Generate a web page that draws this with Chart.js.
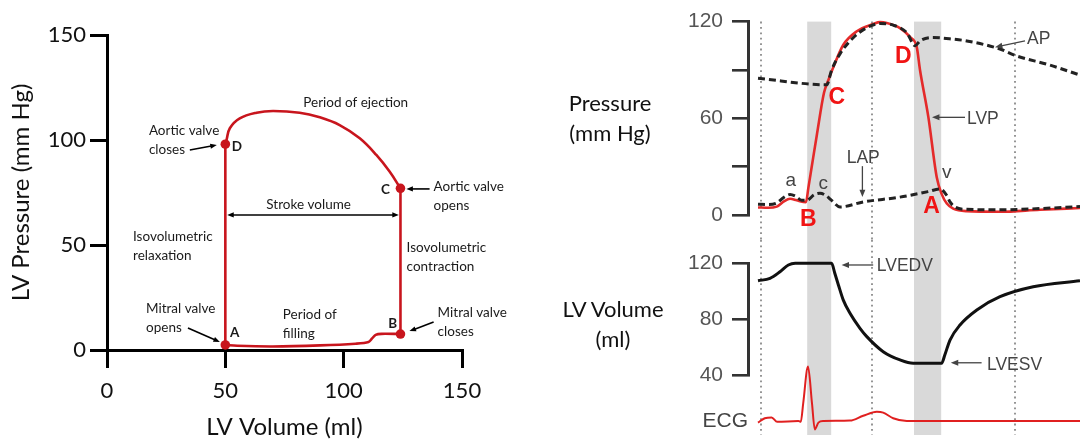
<!DOCTYPE html>
<html><head><meta charset="utf-8">
<script src="https://cdn.jsdelivr.net/npm/chart.js@4.4.1/dist/chart.umd.min.js"></script>
<style>
html,body{margin:0;padding:0;background:#fff;}
#wrap{position:relative;width:1080px;height:443px;overflow:hidden;background:#fff;}
.box{position:absolute;}
.side{position:absolute;width:200px;text-align:center;font-family:Lato,'Noto Sans',sans-serif;font-size:22px;line-height:30px;color:#111;}
</style></head><body>
<div id="wrap">
 <div class="box" style="left:0;top:0;width:540px;height:443px"><canvas id="pv"></canvas></div>
 <div class="box" style="left:640px;top:0;width:440px;height:240px"><canvas id="pres"></canvas></div>
 <div class="box" style="left:640px;top:240px;width:440px;height:203px"><canvas id="vol"></canvas></div>
 <div class="side" style="left:510px;top:88px">Pressure<br>(mm Hg)</div>
 <div class="side" style="left:513px;top:294px">LV Volume<br>(ml)</div>
</div>
<script>
// ---------- Left panel: pressure-volume loop ----------
const pvTicks = [0, 50, 100, 150];
const fillVol = [50, 55, 70, 90, 105, 110.5, 112, 113.5, 116, 124];
const fillP   = [2.4, 2.0, 1.7, 2.2, 3.0, 3.8, 5.5, 7.2, 7.7, 7.6];
const contractVol = [124, 124];
const contractP   = [7.6, 77];
const ejectVol = [124, 119.4, 113.8, 106.8, 98.3, 89.9, 81.4, 70.2, 63.2, 56.1, 51.9, 50.5, 50];
const ejectP   = [77, 85.0, 92.9, 100.8, 107.1, 110.8, 113.0, 113.8, 113.0, 110.3, 105.6, 100, 98];
const relaxVol = [50, 50];
const relaxP   = [98, 2.4];
const keyNames = ['A', 'B', 'C', 'D'];
const keyVol   = [50, 124, 124, 50];
const keyP     = [2.4, 7.6, 77, 98];

// ---------- Right panel: Wiggers diagram ----------
const pressTicks = [0, 30, 60, 90, 120];
const pressLabelled = [0, 60, 120];
const volTicks = [40, 80, 120];
const phaseBands = [[118, 178], [385, 453]];   // ms
const phaseMarks = [3, 280, 638];              // ms
const tLVP = [-5, 20, 42, 60, 75, 90, 100, 115, 121, 130, 142, 160, 171, 183, 208, 242, 283, 300, 317, 350, 375, 392, 400, 421, 442, 454, 467, 483, 517, 600, 700, 800];
const lvp  = [4.7, 4.5, 5.2, 8.5, 10.1, 9.3, 8.5, 8.0, 17, 31, 49.5, 75.8, 83.8, 91.5, 105.5, 114, 118.5, 119.7, 119.2, 116, 110.5, 104, 90, 60.6, 23.2, 13.1, 7.1, 4, 2.4, 2, 3.3, 4.3];
const tLAP = [-5, 20, 42, 60, 75, 90, 104, 117, 135, 150, 165, 179, 200, 258, 350, 420, 450, 467, 475, 487, 517, 600, 700, 800];
const lap  = [6.7, 6.5, 7.5, 11, 12.7, 11.5, 9.1, 9.1, 12.5, 13.5, 12, 9.1, 5, 8.1, 11.1, 14.5, 16.2, 12.1, 8.1, 5, 3.5, 3.2, 4, 5.2];
const tAP = [-5, 167, 179, 200, 233, 267, 300, 333, 367, 388, 400, 433, 483, 517, 600, 638, 725, 800];
const ap  = [84.8, 80.8, 89.9, 100, 110, 116.2, 118.8, 117.8, 113.1, 105, 108, 110.1, 109.1, 108, 103, 99, 93, 86.8];
const tVol = [-5, 25, 50, 71, 88, 179, 187, 196, 208, 225, 250, 267, 308, 350, 383, 454, 462, 475, 500, 542, 600, 683, 800];
const lvVol = [107.6, 109.3, 114, 118.8, 120, 120, 112.9, 104.6, 94, 84.4, 73.7, 67.8, 57.1, 51.2, 48.8, 48.8, 54.7, 65.4, 76.1, 86.8, 96.2, 103.3, 107.6];
const tECG = [-5, 12, 29, 43, 96, 102, 108, 120, 130, 137, 146, 158, 225, 258, 292, 308, 333, 367, 800];
const ecg  = [-0.04, 0.07, 0.09, -0.02, 0, -0.02, 0.44, 1.36, 0.44, -0.21, -0.04, 0, 0.01, 0.13, 0.23, 0.21, 0.07, 0, 0];

// ---------- helpers ----------
const xy = (xs, ys) => xs.map((v, i) => ({x: v, y: ys[i]}));
Chart.defaults.animation = false;

function drawArrow(ctx, x1, y1, x2, y2, o) {
  const head = o.head || 7, a = Math.atan2(y2 - y1, x2 - x1);
  ctx.save();
  ctx.strokeStyle = o.color; ctx.fillStyle = o.color; ctx.lineWidth = o.width || 1.5;
  const sx = o.both ? x1 + head * 0.8 * Math.cos(a) : x1, sy = o.both ? y1 + head * 0.8 * Math.sin(a) : y1;
  ctx.beginPath(); ctx.moveTo(sx, sy);
  ctx.lineTo(x2 - head * 0.8 * Math.cos(a), y2 - head * 0.8 * Math.sin(a)); ctx.stroke();
  const tri = (px, py, ang) => {
    ctx.beginPath(); ctx.moveTo(px, py);
    ctx.lineTo(px - head * Math.cos(ang - 0.38), py - head * Math.sin(ang - 0.38));
    ctx.lineTo(px - head * Math.cos(ang + 0.38), py - head * Math.sin(ang + 0.38));
    ctx.closePath(); ctx.fill();
  };
  tri(x2, y2, a);
  if (o.both) tri(x1, y1, a + Math.PI);
  ctx.restore();
}

function notes(texts, arrows, style) {
  return {
    id: 'notes',
    afterDatasetsDraw(chart) {
      const ctx = chart.ctx, xs = chart.scales.x;
      arrows.forEach(a => {
        const ys = chart.scales[a.axis || 'y'];
        drawArrow(ctx, xs.getPixelForValue(a.x1), ys.getPixelForValue(a.y1),
          xs.getPixelForValue(a.x2), ys.getPixelForValue(a.y2), Object.assign({}, style.arrow, a));
      });
      texts.forEach(n => {
        const ys = chart.scales[n.axis || 'y'];
        ctx.save();
        ctx.font = n.font || style.font;
        ctx.fillStyle = n.color || style.color;
        ctx.textAlign = n.align || 'left';
        ctx.textBaseline = 'middle';
        ctx.fillText(n.text, xs.getPixelForValue(n.x), ys.getPixelForValue(n.y));
        ctx.restore();
      });
    }
  };
}

function phases(topFn, bottom) {
  return {
    id: 'phases',
    beforeDatasetsDraw(chart) {
      const ctx = chart.ctx, xs = chart.scales.x, top = topFn(chart);
      ctx.save();
      ctx.fillStyle = '#d9d9d9';
      phaseBands.forEach(([a, b]) => {
        const x1 = xs.getPixelForValue(a), x2 = xs.getPixelForValue(b);
        ctx.fillRect(x1, top, x2 - x1, bottom - top);
      });
      ctx.strokeStyle = '#8a8a8a'; ctx.lineWidth = 1.8; ctx.setLineDash([1.8, 3.6]);
      phaseMarks.forEach(m => {
        const x = Math.round(xs.getPixelForValue(m));
        ctx.beginPath(); ctx.moveTo(x, top); ctx.lineTo(x, bottom); ctx.stroke();
      });
      ctx.restore();
    }
  };
}

// ---------- Left chart ----------
const LRED = '#c8151d';
const leftFont = 'Lato, "Noto Sans", sans-serif';
const noteSize = '13.5px ';
const lineDS = (data, tension) => ({data, borderColor: LRED, borderWidth: 2.6, pointRadius: 0, tension, fill: false, clip: false});
const leftTexts = [
  {x: 105.1, y: 117.6, text: 'Period of ejection', align: 'center'},
  {x: 17.7, y: 104.3, text: 'Aortic valve'}, {x: 17.7, y: 95.2, text: 'closes'},
  {x: 54.9, y: 96.7, text: keyNames[3], align: 'center', font: 'bold ' + noteSize + leftFont},
  {x: 117.7, y: 76.2, text: keyNames[2], align: 'center', font: 'bold ' + noteSize + leftFont},
  {x: 138, y: 77.6, text: 'Aortic valve'}, {x: 138, y: 68.6, text: 'opens'},
  {x: 85.2, y: 69, text: 'Stroke volume', align: 'center'},
  {x: 11, y: 53.8, text: 'Isovolumetric'}, {x: 11, y: 44.8, text: 'relaxation'},
  {x: 126.6, y: 48.6, text: 'Isovolumetric'}, {x: 126.6, y: 39.5, text: 'contraction'},
  {x: 16.5, y: 19.5, text: 'Mitral valve'}, {x: 16.5, y: 10.5, text: 'opens'},
  {x: 54, y: 8.1, text: keyNames[0], align: 'center', font: 'bold ' + noteSize + leftFont},
  {x: 74.3, y: 16.7, text: 'Period of'}, {x: 74.3, y: 7.6, text: 'filling'},
  {x: 120.7, y: 12.4, text: keyNames[1], align: 'center', font: 'bold ' + noteSize + leftFont},
  {x: 139.7, y: 17.6, text: 'Mitral valve'}, {x: 139.7, y: 8.6, text: 'closes'}
];
const leftArrows = [
  {x1: 35.0, y1: 95.2, x2: 46.4, y2: 97.6},
  {x1: 136.3, y1: 76.7, x2: 126.5, y2: 76.7},
  {x1: 50.8, y1: 64.3, x2: 123.3, y2: 64.3, both: true},
  {x1: 34.2, y1: 10.5, x2: 47.7, y2: 3.8},
  {x1: 138.0, y1: 13.3, x2: 127.8, y2: 9.0}
];
new Chart(document.getElementById('pv'), {
  type: 'line',
  data: {datasets: [
    lineDS(xy(fillVol, fillP), 0.3),
    lineDS(xy(contractVol, contractP), 0),
    lineDS(xy(ejectVol, ejectP), 0.4),
    lineDS(xy(relaxVol, relaxP), 0),
    {data: xy(keyVol, keyP), showLine: false, pointRadius: 4.8, pointBackgroundColor: LRED, pointBorderWidth: 0, clip: false}
  ]},
  options: {
    responsive: true, maintainAspectRatio: false, devicePixelRatio: 1,
    layout: {padding: {left: 0, top: 35, right: 78, bottom: 0}},
    plugins: {legend: {display: false}, tooltip: {enabled: false}},
    scales: {
      x: {type: 'linear', min: 0, max: 150,
        afterBuildTicks: s => { s.ticks = pvTicks.map(v => ({value: v})); },
        ticks: {font: {family: leftFont, size: 22}, color: '#111', padding: 10, maxRotation: 0},
        grid: {drawOnChartArea: false, drawTicks: true, tickLength: 18, lineWidth: 3, color: '#000'},
        border: {display: true, width: 3, color: '#000'},
        title: {display: true, text: 'LV Volume (ml)', font: {family: leftFont, size: 24}, color: '#111', padding: {top: 0, bottom: 1}},
        afterFit: s => { s.height = 93; }},
      y: {type: 'linear', min: 0, max: 150,
        afterBuildTicks: s => { s.ticks = pvTicks.map(v => ({value: v})); },
        ticks: {font: {family: leftFont, size: 22}, color: '#111', padding: 4},
        grid: {drawOnChartArea: false, drawTicks: true, tickLength: 17, lineWidth: 3, color: '#000'},
        border: {display: true, width: 3, color: '#000'},
        title: {display: true, text: 'LV Pressure (mm Hg)', font: {family: leftFont, size: 24}, color: '#111', padding: {top: 7, bottom: 0}},
        afterFit: s => { s.width = 107; }}
    }
  },
  plugins: [notes(leftTexts, leftArrows, {font: noteSize + leftFont, color: '#1a1a1a', arrow: {color: '#000', width: 1.6, head: 7}})]
});

// ---------- Right charts ----------
const rFont = '"Liberation Sans", Arial, sans-serif';
const RRED = '#e42a2a';
const xTime = {type: 'linear', min: -30, max: 800, display: false};
const yAxisStyle = {
  ticks: {font: {family: rFont, size: 21}, color: '#555', padding: 9},
  grid: {drawOnChartArea: false, drawTicks: true, tickLength: 16, lineWidth: 2.6, color: '#333'},
  border: {display: true, width: 3, color: '#333'},
  afterFit: s => { s.width = 108; }
};
const curve = (data, color, width, extra) => Object.assign({data, borderColor: color, borderWidth: width, pointRadius: 0,
  cubicInterpolationMode: 'monotone', fill: false, clip: false}, extra || {});
const annoStyle = {font: '17.5px ' + rFont, color: '#444', arrow: {color: '#444', width: 1.3, head: 8}};
const bigRed = 'bold 23px ' + rFont;

const presTexts = [
  {x: 667.5, y: 109.1, text: 'AP'},
  {x: 517.5, y: 59.4, text: 'LVP'},
  {x: 466.7, y: 26.2, text: 'v', align: 'center', font: '19px ' + rFont},
  {x: 77, y: 21.2, text: 'a', align: 'center', font: '19px ' + rFont},
  {x: 158, y: 19.6, text: 'c', align: 'center', font: '19px ' + rFont},
  {x: 258, y: 35.3, text: 'LAP', align: 'center'},
  {x: 429, y: 5, text: keyNames[0], align: 'center', font: bigRed, color: '#f01414'},
  {x: 121, y: -3, text: keyNames[1], align: 'center', font: bigRed, color: '#f01414'},
  {x: 192, y: 72.7, text: keyNames[2], align: 'center', font: bigRed, color: '#f01414'},
  {x: 358, y: 98, text: keyNames[3], align: 'center', font: bigRed, color: '#f01414'}
];
const presArrows = [
  {x1: 662.5, y1: 108.1, x2: 587.5, y2: 104.1},
  {x1: 512.5, y1: 60.6, x2: 430, y2: 60.6},
  {x1: 256, y1: 30.3, x2: 256, y2: 11.1}
];
new Chart(document.getElementById('pres'), {
  type: 'line',
  data: {datasets: [
    curve(xy(tAP, ap), '#222', 3, {borderDash: [7, 4], order: 0}),
    curve(xy(tLAP, lap), '#222', 3, {borderDash: [7, 4], order: 0}),
    curve(xy(tLVP, lvp), RRED, 2.6, {order: 1})
  ]},
  options: {
    responsive: true, maintainAspectRatio: false, devicePixelRatio: 1,
    layout: {padding: {left: 0, top: 17, right: 0, bottom: 25}},
    plugins: {legend: {display: false}, tooltip: {enabled: false}},
    scales: {
      x: xTime,
      y: Object.assign({}, yAxisStyle, {min: 0, max: 120,
        afterBuildTicks: s => { s.ticks = pressTicks.map(v => ({value: v})); },
        ticks: Object.assign({}, yAxisStyle.ticks, {callback: v => pressLabelled.includes(v) ? String(v) : ''})})
    }
  },
  plugins: [phases(c => c.chartArea.top, 240), notes(presTexts, presArrows, annoStyle)]
});

const volTexts = [
  {x: 292, y: 118.1, text: 'LVEDV'},
  {x: 567.5, y: 47.6, text: 'LVESV'},
  {x: -30, y: 0, axis: 'e', text: 'ECG', align: 'right', font: '21px ' + rFont, color: '#444'}
];
const volArrows = [
  {x1: 283, y1: 118.8, x2: 204, y2: 118.8},
  {x1: 554, y1: 49.2, x2: 477, y2: 49.2}
];
new Chart(document.getElementById('vol'), {
  type: 'line',
  data: {datasets: [
    curve(xy(tVol, lvVol), '#111', 3),
    curve(xy(tECG, ecg), '#e02020', 2, {yAxisID: 'e'})
  ]},
  options: {
    responsive: true, maintainAspectRatio: false, devicePixelRatio: 1,
    layout: {padding: {left: 0, top: 23.3, right: 0, bottom: 67.3}},
    plugins: {legend: {display: false}, tooltip: {enabled: false}},
    scales: {
      x: xTime,
      y: Object.assign({}, yAxisStyle, {min: 40, max: 120,
        afterBuildTicks: s => { s.ticks = volTicks.map(v => ({value: v})); }}),
      e: {type: 'linear', display: false, min: 1.1325, max: 3.9425}
    }
  },
  plugins: [phases(() => 0, 195), notes(volTexts, volArrows, annoStyle)]
});
</script>
</body></html>
